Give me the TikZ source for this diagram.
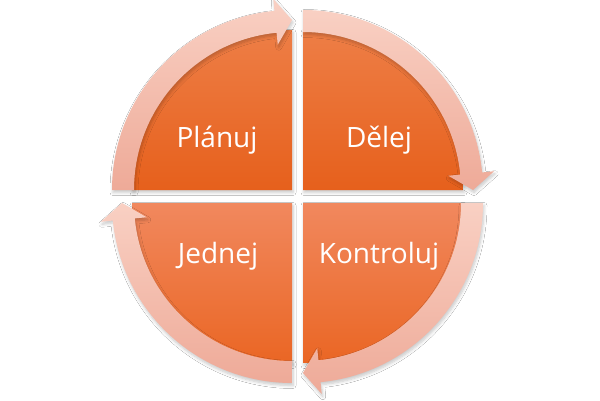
\documentclass[tikz,border=0pt]{standalone}
\usepackage{fontspec}
\setmainfont{Open Sans}
\usetikzlibrary{shadows.blur}
\definecolor{pieTopA}{RGB}{238,126,70}
\definecolor{pieBotA}{RGB}{230,96,28}
\definecolor{pieTopB}{RGB}{241,136,94}
\definecolor{pieBotB}{RGB}{234,102,36}
\definecolor{arrLight}{RGB}{249,208,195}
\definecolor{arrDark}{RGB}{238,170,152}
\newcommand\cyclearrow[2]{%
  \pgfmathsetmacro\cyHB{#1+5.6}%
  \pgfmathsetmacro\cyST{#1+90}%
  \path[#2] (\cyST:180) arc[start angle=\cyST, end angle=\cyHB, radius=180]
    -- (\cyHB:192) -- (#1:170) -- (\cyHB:146) -- (\cyHB:158)
    arc[start angle=\cyHB, end angle=\cyST, radius=158] -- cycle;}
\newcommand\cyclepie[2]{%
  \pgfmathsetmacro\cyEN{#1+90}%
  \path[#2] (0,0) -- (#1:160) arc[start angle=#1, end angle=\cyEN, radius=160] -- cycle;}
\tikzset{
  x=1pt, y=1pt,
  shadowed/.style={blur shadow={shadow xshift=1pt, shadow yshift=-2.5pt, shadow blur steps=6, shadow blur radius=3pt, shadow opacity=22}},
  pieA/.style={shadowed, top color=pieTopA, bottom color=pieBotA},
  pieB/.style={shadowed, top color=pieTopB, bottom color=pieBotB},
  arrowband/.style={shadowed, top color=arrLight, bottom color=arrDark},
  label/.style={text=white, font=\fontsize{28}{34}\selectfont, anchor=base, inner sep=0pt}
}
\begin{document}
\begin{tikzpicture}
\useasboundingbox (0,0) rectangle (600,400);
\fill[white] (0,0) rectangle (600,400);
% pies
\begin{scope}[shift={(292,210)}]\cyclepie{90}{pieA}\end{scope}
\begin{scope}[shift={(303,210)}]\cyclepie{0}{pieA}\end{scope}
\begin{scope}[shift={(303,197)}]\cyclepie{270}{pieB}\end{scope}
\begin{scope}[shift={(292,197)}]\cyclepie{180}{pieB}\end{scope}
% arrows
\begin{scope}[shift={(292,210)}]\cyclearrow{90}{arrowband}\end{scope}
\begin{scope}[shift={(303,210)}]\cyclearrow{0}{arrowband}\end{scope}
\begin{scope}[shift={(303,197)}]\cyclearrow{-90}{arrowband}\end{scope}
\begin{scope}[shift={(292,197)}]\cyclearrow{180}{arrowband}\end{scope}
% labels
\node[label] (plan) at (217,253) {Plánuj};
\node[label] (do) at (379,253) {Dělej};
\node[label] (act) at (218,137) {Jednej};
\node[label] (check) at (379,137) {Kontroluj};
\end{tikzpicture}
\end{document}
